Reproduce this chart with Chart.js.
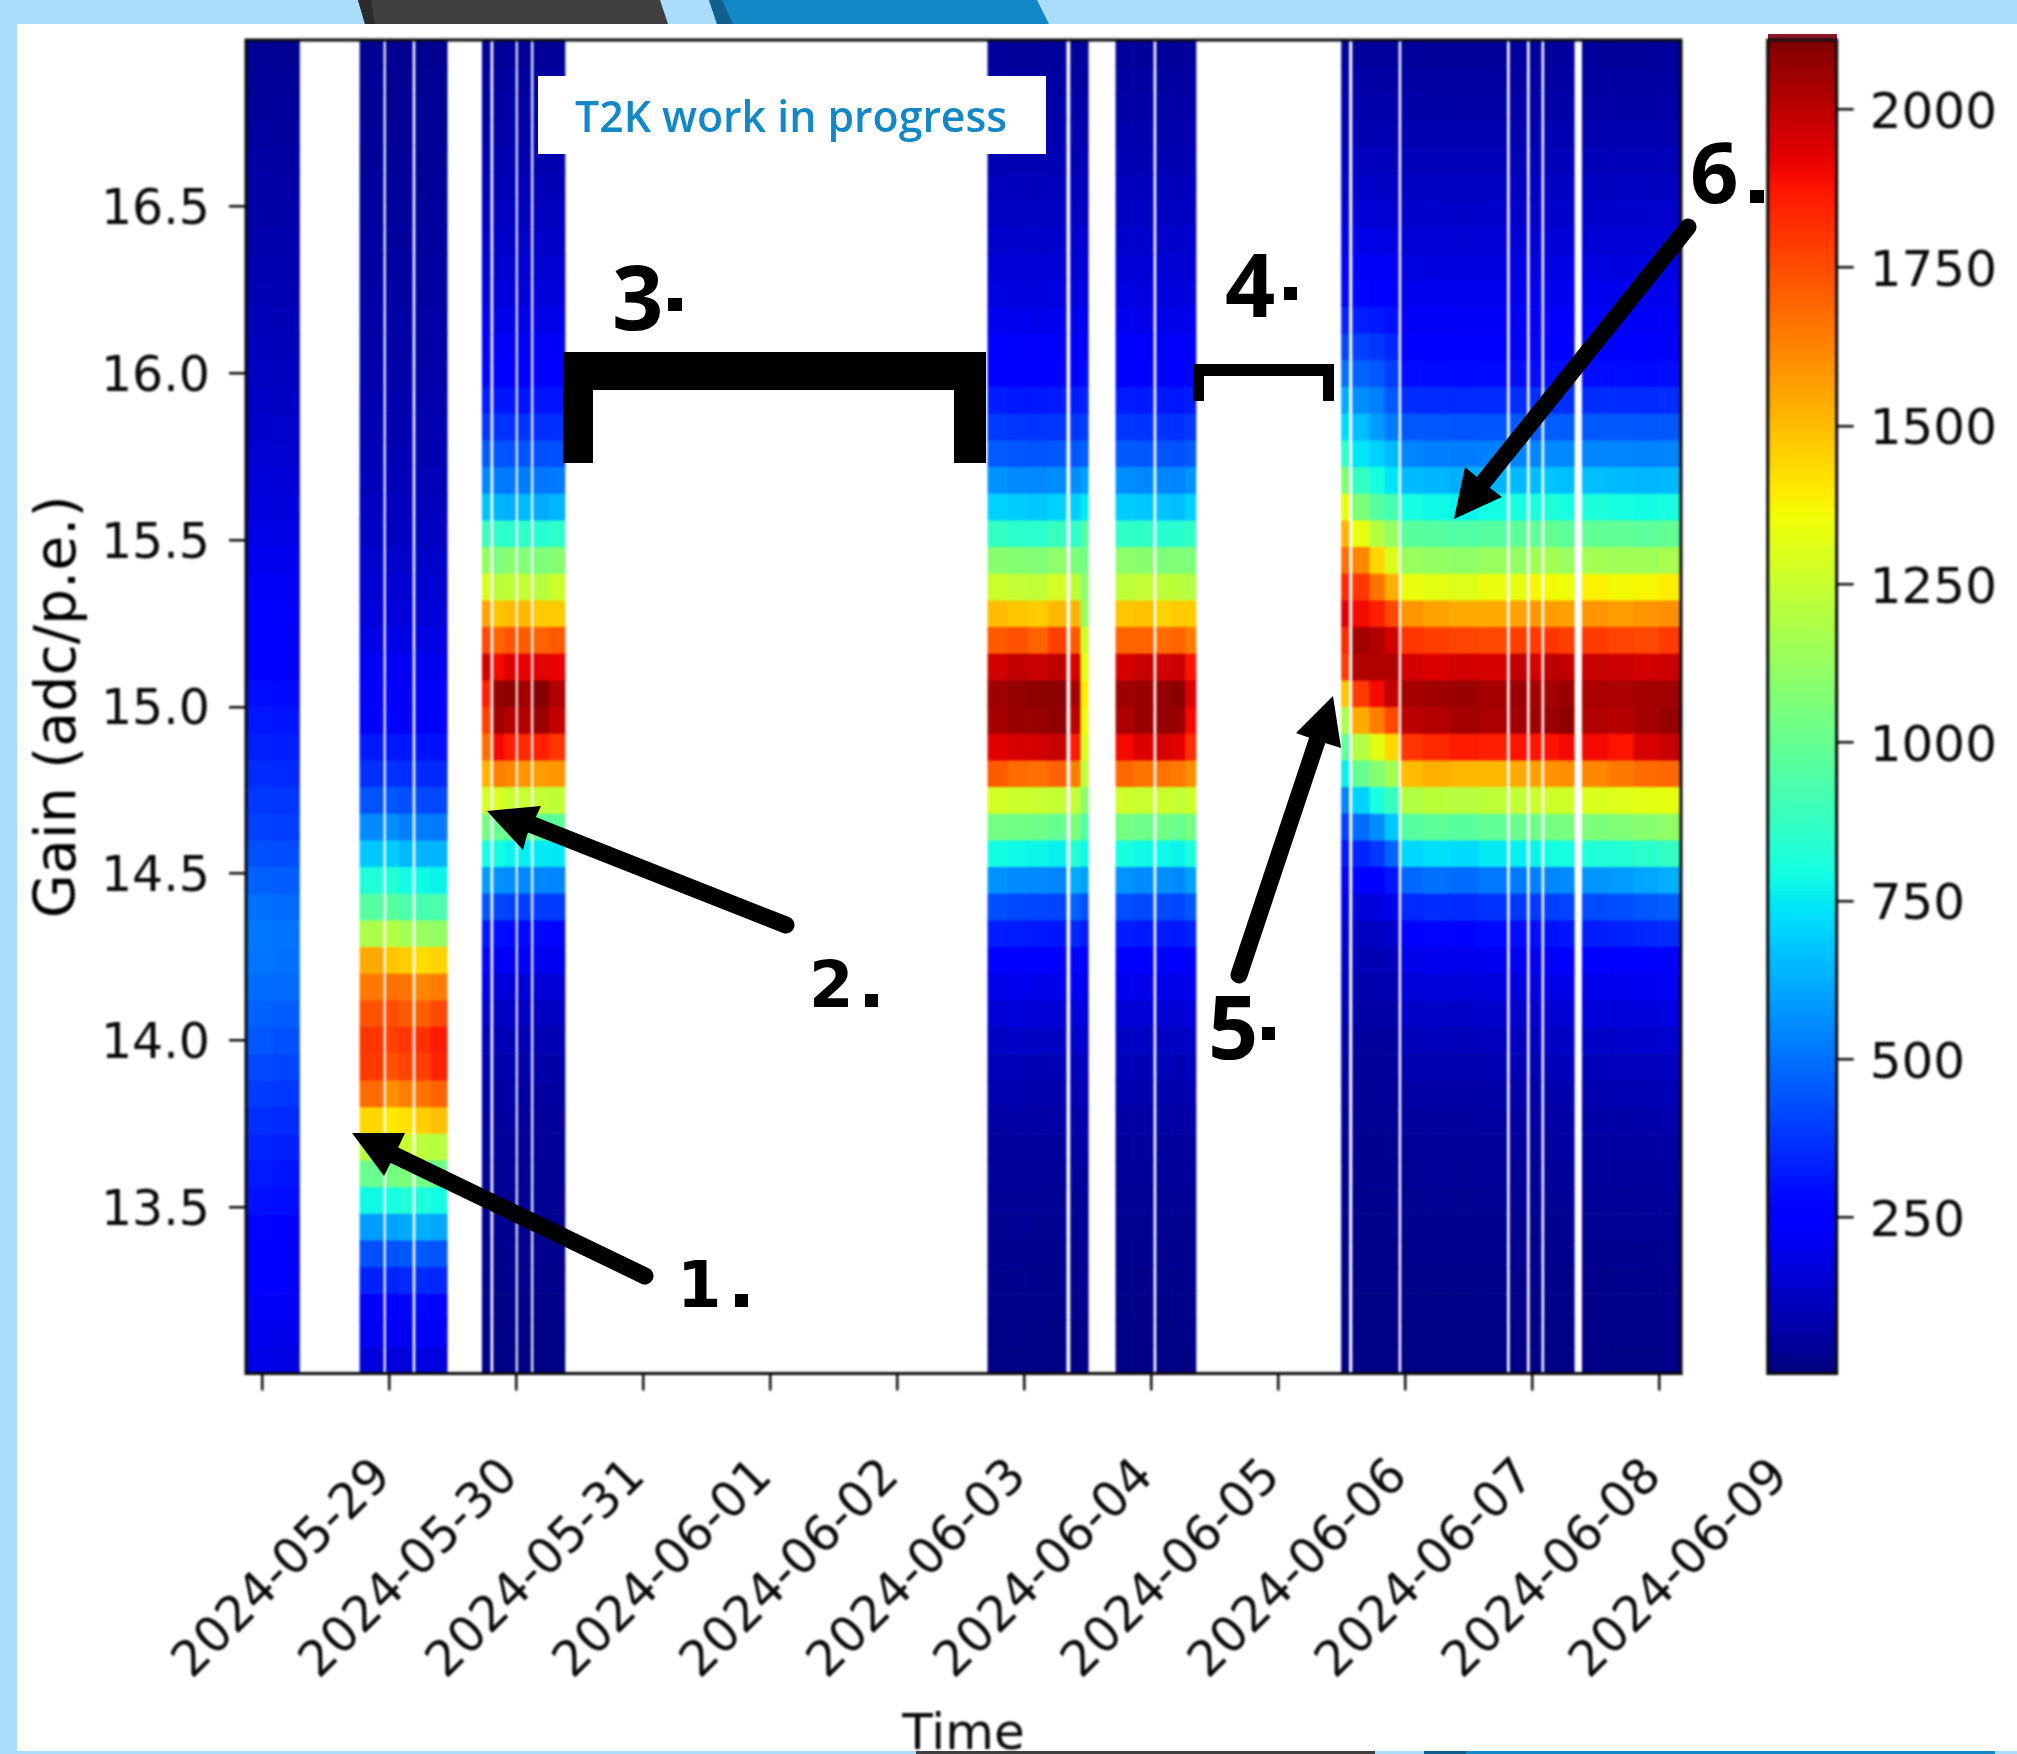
<!DOCTYPE html>
<html><head><meta charset="utf-8">
<script src="https://cdn.jsdelivr.net/npm/chart.js@4"></script>
<style>
html,body{margin:0;padding:0;width:2017px;height:1754px;overflow:hidden;background:#a9ddfa}
#bg,#over{position:absolute;left:0;top:0}
#main,#cbar{position:absolute;top:0;filter:blur(.9px)}
#main{left:0}
#cbar{left:1700px}
</style></head><body>
<svg id="bg" width="2017" height="1754">
<polygon points="358,0 660,0 668,24 365,24" fill="#404040"/>
<polygon points="358,0 371,0 375,24 365,24" fill="#2b2b2b"/>
<polygon points="709,0 1037,0 1049,24 717,24" fill="#1488c6"/>
<polygon points="709,0 722,0 733,24 717,24" fill="#0f5f8f"/>
<rect x="17" y="24" width="2000" height="1727" fill="#fff"/>
<rect x="916" y="1751" width="459" height="3" fill="#404040"/>
<rect x="1424" y="1751" width="42" height="3" fill="#0f5f8f"/>
<rect x="1466" y="1751" width="529" height="3" fill="#1488c6"/>
<rect x="1768" y="34" width="69" height="6" fill="#8e1a28"/>
</svg>
<canvas id="main" width="2017" height="1754"></canvas>
<canvas id="cbar" width="317" height="1754"></canvas>
<svg id="over" width="2017" height="1754">
<rect x="538" y="76" width="508" height="78" fill="#fff"/>
<text x="575" y="132" font-family="'Open Sans'" font-weight="600" font-size="42.8" fill="#1488c6">T2K work in progress</text>
<g fill="#000">
<polygon points="563,352 986,352 986,463 954,463 954,390 593,390 593,463 563,463"/>
<polygon points="1193,364 1334,364 1334,401 1323,401 1323,376 1204,376 1204,401 1193,401"/>
<g font-family="'DejaVu Sans'" font-weight="700">
<text x="677" y="1307" font-size="64">1</text><rect x="735" y="1294" width="13" height="13"/>
<text x="809" y="1007" font-size="64">2</text><rect x="865" y="994" width="13" height="13"/>
</g>
<g font-family="'Open Sans'" font-weight="700">
<text x="612" y="330" font-size="90">3</text><rect x="668" y="298" width="14" height="13"/>
<text x="1225" y="317" font-size="88">4</text><rect x="1284" y="287" width="13" height="13"/>
<text x="1208" y="1059" font-size="88">5</text><rect x="1262" y="1027" width="13" height="13"/>
<text x="1690" y="203" font-size="85">6</text><rect x="1750" y="190" width="14" height="13"/>
</g>
<g stroke="#000" stroke-width="17" stroke-linecap="round">
<line x1="645" y1="1276" x2="394" y2="1155"/>
<line x1="786" y1="925" x2="530" y2="824"/>
<line x1="1239" y1="975" x2="1318" y2="738"/>
<line x1="1688" y1="227" x2="1482" y2="484"/>
</g>
<polygon points="352,1133 405,1133 398,1148 391,1162 384,1176"/>
<polygon points="487,811 541,806 534,821 527,835 523,850"/>
<polygon points="1333,696 1296,733 1310,738 1325,743 1341,748"/>
<polygon points="1454,519 1465,467 1478,478 1490,488 1502,497"/>
</g>
</svg>
<script>
// Time of the visible day ticks (days after 2024-05-29) and their labels
const tickDays = [0,1,2,3,4,5,6,7,8,9,10,11];
const tickLabels = ['2024-05-29','2024-05-30','2024-05-31','2024-06-01','2024-06-02','2024-06-03','2024-06-04','2024-06-05','2024-06-06','2024-06-07','2024-06-08','2024-06-09'];
const gainTicks = [13.5,14.0,14.5,15.0,15.5,16.0,16.5];
const colorTicks = [250,500,750,1000,1250,1500,1750,2000];

// Gain bin centres, low to high
const gainBins = [13.04,13.12,13.2,13.28,13.36,13.44,13.52,13.6,13.68,13.76,13.84,13.92,14.0,14.08,14.16,14.24,14.32,14.4,14.48,14.56,14.64,14.72,14.8,14.88,14.96,15.04,15.12,15.2,15.28,15.36,15.44,15.52,15.6,15.68,15.76,15.84,15.92,16.0,16.08,16.16,16.24,16.32,16.4,16.48,16.56,16.64,16.72,16.8,16.88,16.96];

// Time spans (days) of each column, with counts per gain bin
const spansA = [[-0.13,0.085],[0.085,0.295]];
const countsA = [
[192,205,222,240,258,275,298,318,338,362,388,415,445,468,492,508,512,498,468,432,402,380,358,332,312,292,272,252,236,220,206,192,178,165,152,142,132,122,114,106,100,92,86,80,74,68,60,54,48,42],
[185,198,216,234,250,270,290,310,330,356,380,405,432,462,486,500,506,490,462,426,396,376,350,326,306,286,266,246,232,216,202,188,174,162,148,138,128,120,110,104,98,90,84,78,72,66,58,52,46,40]];

const spansB = [[0.771,0.955],[0.977,1.08],[1.08,1.184],[1.209,1.33],[1.33,1.458]];
const countsB = [
[172,212,262,335,430,590,780,1010,1220,1440,1680,1790,1800,1740,1650,1540,1180,960,820,680,555,440,365,315,272,240,215,190,170,155,140,128,118,108,100,94,88,82,76,72,68,64,60,56,52,48,45,42,38,35],
[170,210,265,340,435,600,800,1040,1230,1400,1600,1740,1780,1750,1670,1480,1200,970,830,690,560,445,370,315,275,242,216,192,172,156,141,129,118,109,101,94,88,82,76,72,68,64,60,56,52,48,45,42,38,35],
[178,218,275,350,445,620,820,1060,1250,1420,1640,1770,1800,1720,1660,1460,1160,940,790,650,530,430,360,310,268,238,212,188,168,153,139,127,117,107,99,93,87,81,75,71,67,63,59,55,51,47,44,41,37,34],
[180,222,280,352,450,630,810,1030,1220,1460,1660,1780,1810,1710,1620,1430,1130,920,780,640,525,420,352,305,264,235,210,186,166,151,137,126,116,106,98,92,86,80,75,70,66,62,58,54,50,47,44,41,37,34],
[176,216,272,345,440,610,790,1020,1210,1490,1700,1840,1860,1760,1640,1450,1120,930,770,640,520,415,350,300,262,232,208,184,165,150,136,125,115,105,97,91,85,79,74,70,66,62,58,54,50,47,44,41,37,34]];

const spansC = [[1.734,1.797],[1.823,1.91],[1.91,1.995],[2.016,2.116],[2.138,2.26],[2.26,2.385]];
const countsC = [
[18,21,24,27,31,36,42,48,56,65,76,92,112,140,185,240,310,440,590,790,1040,1280,1520,1680,1780,1850,1960,1760,1560,1290,1120,890,670,540,455,380,320,272,232,200,175,154,138,122,107,93,81,71,61,51],
[16,19,22,25,29,34,39,45,52,60,70,84,102,128,168,218,290,410,570,790,1010,1290,1640,1900,2050,2070,1900,1700,1480,1220,1060,860,640,520,440,370,310,264,225,194,170,150,135,120,105,92,80,70,60,50],
[15,18,21,24,28,33,38,44,50,58,68,82,100,125,165,215,285,400,560,770,1000,1260,1620,1860,2020,2080,1940,1730,1500,1230,1090,850,630,515,438,368,308,263,224,194,170,150,134,119,105,92,80,70,60,50],
[15,18,20,24,28,33,38,43,50,58,67,81,99,124,163,213,282,395,550,760,1000,1250,1590,1830,2020,2050,1920,1720,1510,1240,1070,860,650,525,442,370,310,265,226,195,171,151,136,120,106,92,80,70,60,50],
[14,17,20,23,27,32,37,43,49,57,66,80,98,122,160,210,280,390,545,750,980,1240,1570,1850,2060,2100,1930,1700,1470,1210,1060,840,620,510,430,362,305,260,222,192,168,148,133,118,104,91,79,69,59,49],
[14,17,20,23,27,31,36,42,48,56,65,79,96,120,158,208,275,385,540,745,985,1230,1580,1800,1990,2020,1920,1720,1470,1260,1080,860,640,520,432,365,308,262,224,193,169,149,134,119,105,91,79,69,59,49]];

const spansD = [[5.714,5.87],[5.87,6.03],[6.03,6.19],[6.19,6.33],[6.365,6.445],[6.445,6.504]];
const countsD = [
[15,18,22,26,31,36,42,50,60,72,88,105,130,160,200,255,325,430,570,790,1040,1280,1720,1930,2040,2050,1960,1720,1500,1260,1090,870,700,570,455,385,325,270,235,205,180,160,145,130,115,100,88,76,66,56],
[16,19,23,27,30,37,43,51,61,74,90,108,133,165,205,258,320,415,555,780,1030,1260,1680,1950,2060,2075,1990,1740,1480,1240,1080,850,690,555,445,375,315,268,232,203,178,158,143,128,113,98,86,74,64,54],
[14,18,21,25,30,35,41,49,59,71,86,104,128,158,198,250,315,410,550,775,1020,1250,1670,1960,2070,2085,1980,1700,1470,1230,1070,850,680,550,440,370,312,265,230,200,175,156,142,126,112,97,85,73,63,53],
[15,17,21,26,29,35,41,48,58,70,85,102,126,155,195,245,310,405,540,760,1000,1240,1700,1980,2080,2090,2000,1780,1510,1280,1100,880,700,560,450,375,318,270,235,205,180,160,145,128,114,99,87,75,65,55],
[17,20,24,28,33,38,45,53,64,78,94,112,140,172,215,270,350,470,620,830,1060,1240,1640,1860,2000,2040,1950,1720,1520,1230,1060,850,690,560,445,375,318,268,232,202,178,158,143,128,113,98,86,74,64,54],
[20,24,28,32,37,44,52,60,72,86,104,124,150,175,210,250,320,430,600,780,950,1100,1230,1300,1360,1390,1330,1270,1130,1100,1040,950,750,600,470,395,335,285,245,212,186,164,148,132,116,101,88,76,66,56]];

const spansE = [[6.722,6.86],[6.86,7.016],[7.042,7.16],[7.16,7.27],[7.27,7.352]];
const countsE = [
[15,18,22,26,30,36,42,50,60,72,88,106,130,160,202,258,325,430,570,800,1040,1270,1690,1900,2030,2050,1950,1700,1480,1230,1100,860,690,560,450,378,320,268,233,204,180,160,145,129,115,100,88,76,66,56],
[14,18,21,25,30,35,41,49,58,70,86,103,127,157,198,250,315,415,555,780,1020,1250,1660,1940,2060,2060,1980,1700,1490,1240,1090,860,680,550,445,372,315,265,230,200,177,158,143,127,113,98,86,74,64,54],
[15,17,21,26,30,36,42,49,59,71,87,104,128,158,199,252,318,420,560,780,1030,1260,1660,1960,2070,2070,1960,1680,1450,1230,1060,840,670,545,440,370,312,262,228,199,176,157,142,126,112,97,85,73,63,53],
[14,18,22,25,29,35,41,48,58,70,85,102,126,155,195,248,312,410,550,770,1010,1240,1650,1930,2060,2090,1970,1700,1470,1220,1070,840,660,540,435,365,310,262,228,198,175,156,141,125,111,96,84,72,62,52],
[16,19,23,27,32,38,44,52,62,76,92,110,135,168,208,262,335,445,600,810,1040,1260,1600,1820,1900,1940,1880,1640,1470,1200,1060,870,700,570,455,382,322,272,236,206,181,160,146,130,115,100,88,76,66,56]];

const spansF = [[8.498,8.555],[8.585,8.72],[8.72,8.84],[8.84,8.945],[8.97,9.14],[9.14,9.35],[9.35,9.58],[9.58,9.798],[9.824,9.955],[9.981,10.07],[10.095,10.21],[10.21,10.33],[10.393,10.6],[10.6,10.8],[10.8,11.0],[11.0,11.18]];
const countsF = [
[13,15,18,20,23,26,30,35,40,46,54,64,76,92,110,130,155,190,245,310,400,540,760,980,1180,1480,1790,1830,1930,1830,1680,1520,1330,1060,850,720,620,500,410,340,280,230,190,160,135,115,98,84,70,58],
[13,15,17,19,21,24,27,30,34,38,43,50,58,70,84,100,125,170,240,340,490,700,1000,1200,1540,1790,2020,2040,1900,1800,1620,1340,1060,870,740,660,560,470,400,330,275,225,190,160,135,115,98,84,70,58],
[13,15,17,19,21,24,27,30,34,38,43,50,58,70,84,102,128,178,260,380,560,800,1080,1320,1640,1900,2020,2020,1850,1660,1440,1200,960,800,700,590,530,450,380,315,265,220,186,158,133,113,96,82,69,57],
[14,16,18,20,22,25,28,32,36,41,47,54,62,74,90,110,140,200,310,470,680,890,1150,1440,1760,1990,2020,1960,1760,1530,1300,1120,920,740,650,520,450,395,345,300,255,212,180,152,130,110,94,80,67,56],
[15,16,19,22,26,30,36,42,50,60,72,90,110,135,165,200,270,350,480,710,960,1200,1500,1800,2000,2040,1960,1800,1590,1340,1130,970,800,650,540,450,360,290,250,226,205,180,160,142,125,108,92,78,66,55],
[14,17,20,23,27,31,37,44,52,62,75,92,113,138,170,205,275,360,500,730,980,1220,1530,1830,2020,2050,1940,1780,1560,1320,1120,960,780,640,530,445,355,286,247,224,203,178,158,140,123,107,91,77,65,54],
[14,16,19,22,26,30,36,43,51,61,74,90,111,136,168,203,272,355,490,720,970,1210,1510,1860,2040,2060,1960,1770,1540,1310,1110,950,770,630,525,440,352,284,245,222,201,176,156,138,122,106,90,76,64,53],
[15,17,20,23,27,32,38,45,54,64,78,95,116,142,175,210,285,370,515,750,990,1230,1510,1850,2030,2040,1950,1760,1540,1340,1130,960,790,640,530,442,355,286,246,223,202,177,157,139,122,106,90,76,64,53],
[15,17,20,23,27,32,38,45,54,64,78,96,118,145,178,215,290,380,520,760,1010,1240,1540,1880,2040,2060,1990,1780,1560,1330,1120,980,800,650,540,450,360,291,250,226,205,180,160,141,123,107,91,77,65,54],
[15,17,20,24,28,32,38,46,55,66,80,98,120,148,180,218,295,385,530,770,1020,1260,1560,1870,2050,2040,1960,1790,1580,1370,1150,990,810,660,545,455,363,294,252,228,206,181,161,142,124,108,92,78,66,55],
[16,18,21,25,29,34,40,48,58,70,84,103,126,152,186,225,300,395,540,790,1040,1270,1590,1880,2060,2040,2000,1800,1570,1360,1160,1000,820,670,550,460,365,296,254,230,207,182,161,143,124,108,92,78,66,55],
[16,18,22,25,30,35,42,50,60,72,87,106,130,158,192,232,310,405,555,800,1050,1270,1600,1900,2080,2060,1990,1780,1560,1350,1130,980,800,660,548,458,362,294,252,228,206,181,161,143,124,108,92,78,66,55],
[17,19,23,27,32,38,45,54,64,77,93,112,136,165,200,240,325,420,575,820,1060,1300,1620,1900,2020,2030,1980,1790,1590,1380,1160,990,810,660,545,450,360,291,250,226,205,180,160,141,123,107,91,77,65,54],
[18,20,24,28,33,39,47,56,66,80,96,116,140,170,205,248,335,430,590,830,1070,1310,1650,1880,2010,2030,1970,1770,1570,1360,1150,990,800,650,540,448,358,288,248,224,203,178,158,140,122,106,90,76,64,53],
[18,21,25,29,34,40,48,57,68,82,98,118,143,174,210,255,345,445,610,850,1090,1320,1680,1950,2040,2040,1960,1760,1590,1370,1150,980,790,645,535,445,355,286,247,223,202,177,157,140,122,106,90,76,64,53],
[19,22,26,30,35,42,50,60,71,85,102,122,148,180,216,262,355,460,630,870,1110,1330,1690,1980,2070,2050,1970,1790,1600,1390,1170,990,800,650,540,450,360,291,250,226,205,180,160,141,123,107,91,77,65,54]];

const countMin = 4, countMax = 2109;

// matplotlib "jet"
const jetR=[[0,0],[.35,0],[.66,1],[.89,1],[1,.5]], jetG=[[0,0],[.125,0],[.375,1],[.64,1],[.91,0],[1,0]], jetB=[[0,.5],[.11,1],[.34,1],[.65,0],[1,0]];
function seg(s,n){for(let i=1;i<s.length;i++){if(n<=s[i][0]){const a=s[i-1],b=s[i];return a[1]+(b[1]-a[1])*(n-a[0])/(b[0]-a[0]);}}return s[s.length-1][1];}
function jet(n){n=Math.max(0,Math.min(1,n));return `rgb(${Math.round(seg(jetR,n)*255)},${Math.round(seg(jetG,n)*255)},${Math.round(seg(jetB,n)*255)})`;}
const colorOf = v => jet((v-countMin)/(countMax-countMin));

const cells = [];
[[spansA,countsA],[spansB,countsB],[spansC,countsC],[spansD,countsD],[spansE,countsE],[spansF,countsF]].forEach(([sp,co])=>{
  sp.forEach((s,i)=>co[i].forEach((v,r)=>cells.push({y:gainBins[r],x:[s[0],s[1]],v})));
});

const ink='#0a0a0a';
const frame={id:'frame',afterDraw(c){const a=c.chartArea,g=c.ctx;g.save();g.strokeStyle=ink;g.lineWidth=3;g.strokeRect(a.left,a.top,a.width,a.height);g.restore();}};
Chart.defaults.animation=false;

new Chart(document.getElementById('main'),{
  type:'bar',
  data:{datasets:[{label:'Counts',data:cells,borderWidth:0,barPercentage:1,categoryPercentage:1,
    backgroundColor:c=>c.raw?colorOf(c.raw.v):'#000'}]},
  plugins:[frame],
  options:{indexAxis:'y',responsive:false,devicePixelRatio:1,
    layout:{padding:{top:40,right:336,bottom:0,left:0}},
    plugins:{legend:{display:false},tooltip:{enabled:false}},
    scales:{
      x:{type:'linear',min:-0.126,max:11.17,
        afterBuildTicks:a=>{a.ticks=tickDays.map(v=>({value:v}));},
        afterFit:s=>{s.height=380.5;s.paddingLeft=0;s.paddingRight=0;},
        grid:{drawOnChartArea:false,drawTicks:true,tickLength:17,color:ink,lineWidth:2.5},
        border:{display:true,color:ink,width:3},
        ticks:{font:{family:"'DejaVu Sans'",size:49},color:ink,minRotation:45,maxRotation:45,autoSkip:false,padding:58,labelOffset:122,
          callback:(v)=>tickLabels[tickDays.indexOf(v)]},
        title:{display:true,text:'Time',font:{family:"'DejaVu Sans'",size:50},color:ink,padding:{top:0,bottom:-12}}},
      y:{type:'linear',min:13,max:17,offset:false,
        afterBuildTicks:a=>{a.ticks=gainTicks.map(v=>({value:v}));},
        afterFit:s=>{s.width=246;s.paddingTop=0;s.paddingBottom=0;},
        grid:{offset:false,drawOnChartArea:false,drawTicks:true,tickLength:17,color:ink,lineWidth:2.5},
        border:{display:true,color:ink,width:3},
        ticks:{font:{family:"'DejaVu Sans'",size:49},color:ink,padding:19,labelOffset:5,callback:v=>v.toFixed(1)},
        title:{display:true,text:'Gain (adc/p.e.)',font:{family:"'DejaVu Sans'",size:57},color:'#000',padding:{top:26,bottom:0}}}
    }}
});

// Colour bar: one bar spanning the count range, filled with the jet map
new Chart(document.getElementById('cbar'),{
  type:'bar',
  data:{labels:['Counts'],datasets:[{data:[[countMin,countMax]],borderWidth:0,barPercentage:1,categoryPercentage:1,inflateAmount:0,
    backgroundColor:c=>{const a=c.chart.chartArea;if(!a)return '#000';const g=c.chart.ctx.createLinearGradient(0,a.bottom,0,a.top);for(let i=0;i<=100;i++)g.addColorStop(i/100,jet(i/100));return g;}}]},
  plugins:[frame],
  options:{responsive:false,devicePixelRatio:1,
    layout:{padding:{top:40,left:67.7,right:0,bottom:380.5}},
    plugins:{legend:{display:false},tooltip:{enabled:false}},
    scales:{
      x:{display:false},
      y:{type:'linear',position:'right',min:countMin,max:countMax,
        afterBuildTicks:a=>{a.ticks=colorTicks.map(v=>({value:v}));},
        afterFit:s=>{s.width=180.3;s.paddingTop=0;s.paddingBottom=0;},
        grid:{drawOnChartArea:false,drawTicks:true,tickLength:17,color:ink,lineWidth:2.5},
        border:{display:true,color:ink,width:3},
        ticks:{font:{family:"'DejaVu Sans'",size:50},color:ink,padding:16,labelOffset:5.5,callback:v=>String(v)}}
    }}
});
</script>
</body></html>
